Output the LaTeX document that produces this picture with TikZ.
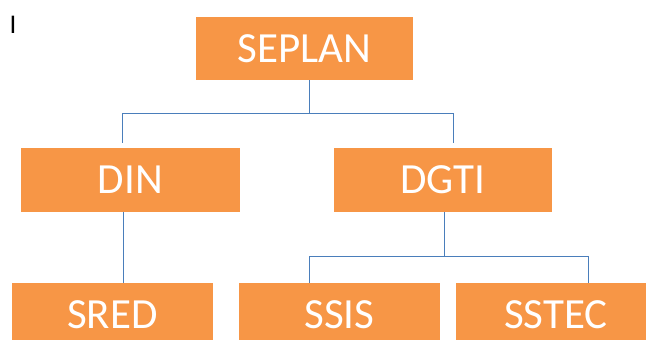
\documentclass[tikz,border=0pt]{standalone}
\usepackage{fontspec}
\setmainfont{Carlito}
\definecolor{boxorange}{HTML}{F79646}
\definecolor{linkblue}{HTML}{4A7EBB}
\begin{document}
\begin{tikzpicture}[x=1pt,y=-1pt,
  orgbox/.style={rectangle, fill=boxorange, draw=none, text=white, inner sep=0pt,
    font=\fontsize{43}{43}\selectfont, anchor=center},
  conn/.style={draw=linkblue, line width=1pt}]
\useasboundingbox (0,0) rectangle (646,340);
\node[font=\fontsize{27}{27}\selectfont] (cursor) at (13,25) {I};
\node[orgbox, minimum width=217pt, minimum height=63pt] (seplan) at (304.5,48.5) {SEPLAN};
\node[orgbox, minimum width=219pt, minimum height=64pt] (din) at (130.5,180) {DIN};
\node[orgbox, minimum width=218pt, minimum height=64pt] (dgti) at (443,180) {DGTI};
\node[orgbox, minimum width=201pt, minimum height=64pt] (sred) at (112.5,315) {SRED};
\node[orgbox, minimum width=201pt, minimum height=64pt] (ssis) at (339.5,315) {SSIS};
\node[orgbox, minimum width=200pt, minimum height=64pt] (sstec) at (556,315) {SSTEC};
\coordinate (j1) at (309,113);
\coordinate (dinin) at (122,143);
\coordinate (dgtiin) at (453,143);
\coordinate (j2) at (444,256);
\draw[conn] (seplan.south -| j1) -- (j1);
\draw[conn] (j1) -| (dinin);
\draw[conn] (j1) -| (dgtiin);
\draw[conn] (din.south -| 123,0) -- (sred.north -| 123,0);
\draw[conn] (dgti.south -| j2) -- (j2);
\draw[conn] (j2) -| (ssis.north -| 309,0);
\draw[conn] (j2) -| (sstec.north -| 588,0);
\end{tikzpicture}
\end{document}
